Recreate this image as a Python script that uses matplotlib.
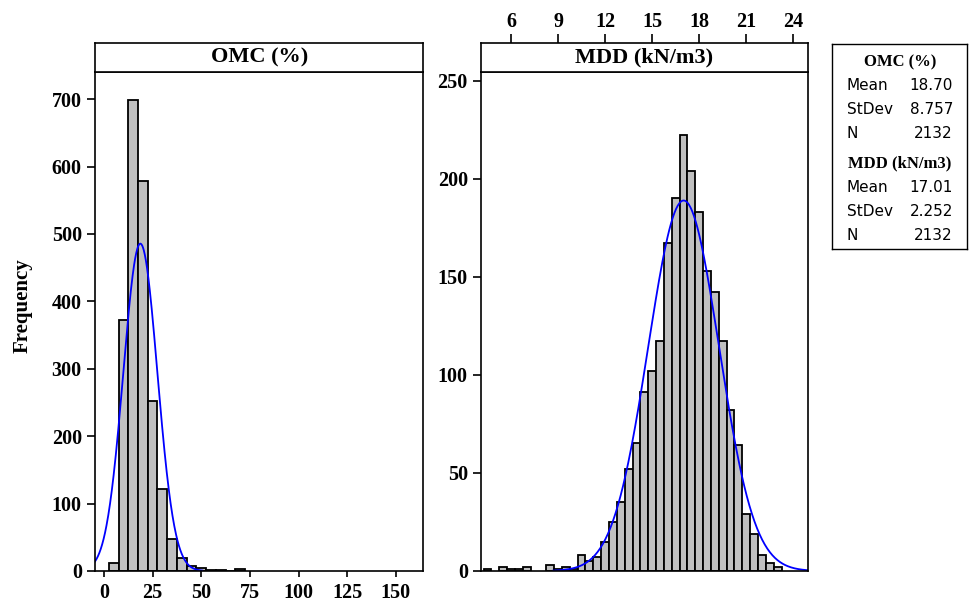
import numpy as np
import matplotlib.pyplot as plt

# OMC (%) histogram, bin width 5
omc_centers = [5, 10, 15, 20, 25, 30, 35, 40, 45, 50, 55, 60, 65, 70]
omc_counts = [12, 372, 698, 579, 252, 122, 47, 20, 7, 5, 2, 2, 0, 3]
omc_bin = 5
omc_mean, omc_sd, omc_n = 18.70, 8.757, 2132
omc_fit_range = (-4.6, 50.5)

# MDD (kN/m3) histogram, bin width 0.5
mdd_centers = [4.5, 5.5, 6.0, 6.5, 7.0, 8.5, 9.0, 9.5, 10.0,
               10.5, 11.0, 11.5, 12.0, 12.5, 13.0, 13.5, 14.0, 14.5, 15.0,
               15.5, 16.0, 16.5, 17.0, 17.5, 18.0, 18.5, 19.0, 19.5, 20.0,
               20.5, 21.0, 21.5, 22.0, 22.5, 23.0]
mdd_counts = [1, 2, 1, 1, 2, 3, 1, 2, 1,
              8, 5, 7, 15, 25, 35, 52, 65, 91, 102,
              117, 167, 190, 222, 204, 183, 153, 142, 117, 82,
              64, 29, 19, 8, 4, 2]
mdd_bin = 0.5
mdd_mean, mdd_sd, mdd_n = 17.01, 2.252, 2132
mdd_fit_range = (8.7, 24.95)

omc_xticks = [0, 25, 50, 75, 100, 125, 150]
omc_yticks = [0, 100, 200, 300, 400, 500, 600, 700]
mdd_xticks = [6, 9, 12, 15, 18, 21, 24]
mdd_yticks = [0, 50, 100, 150, 200, 250]

stats_rows = [
    ('OMC (%)', [('Mean', '18.70'), ('StDev', '8.757'), ('N', '2132')]),
    ('MDD (kN/m3)', [('Mean', '17.01'), ('StDev', '2.252'), ('N', '2132')]),
]

plt.rcParams['font.family'] = 'Liberation Serif'
plt.rcParams['font.weight'] = 'bold'

W, H = 970, 607


def fx(px):
    return px / W


def fy(py):
    return 1 - py / H


def normal_curve(mean, sd, n, width, lo, hi):
    x = np.linspace(lo, hi, 300)
    y = n * width * np.exp(-0.5 * ((x - mean) / sd) ** 2) / (sd * np.sqrt(2 * np.pi))
    return x, y


def panel(left, right, xlim, ylim, title):
    top, bottom, strip_top = 71.5, 571, 43
    ax = fig.add_axes([fx(left), fy(bottom), fx(right - left), fy(top) - fy(bottom)])
    st = fig.add_axes([fx(left), fy(top), fx(right - left), fy(strip_top) - fy(top)])
    for a in (ax, st):
        for s in a.spines.values():
            s.set_linewidth(1.2)
        a.set_xlim(xlim)
    ax.set_ylim(ylim)
    st.set_yticks([])
    st.text(0.5, 0.5, title, transform=st.transAxes, ha='center', va='center',
            fontsize=16, fontweight='bold')
    ax.tick_params(axis='y', direction='out', length=6, width=1.2, pad=3.5,
                   labelsize=14.5)
    return ax, st


fig = plt.figure(figsize=(W / 100, H / 100), dpi=100)

# left panel: OMC
ax1, st1 = panel(95, 423.3, (-4.6, 164.1), (0, 741), 'OMC (%)')
ax1.bar(omc_centers, omc_counts, width=omc_bin, color='#c0c0c0',
        edgecolor='black', linewidth=1.3)
x, y = normal_curve(omc_mean, omc_sd, omc_n, omc_bin, *omc_fit_range)
ax1.plot(x, y, color='#0000ff', linewidth=1.3)
ax1.set_xticks(omc_xticks)
ax1.set_yticks(omc_yticks)
ax1.tick_params(axis='x', direction='out', length=4.5, width=1.2, pad=4,
                labelsize=14.5)
st1.set_xticks([])

# right panel: MDD
ax2, st2 = panel(481, 807.7, (4.09, 24.92), (0, 254.6), 'MDD (kN/m3)')
ax2.bar(mdd_centers, mdd_counts, width=mdd_bin, color='#c0c0c0',
        edgecolor='black', linewidth=1.3)
x, y = normal_curve(mdd_mean, mdd_sd, mdd_n, mdd_bin, *mdd_fit_range)
ax2.plot(x, y, color='#0000ff', linewidth=1.3)
ax2.set_yticks(mdd_yticks)
ax2.tick_params(axis='x', bottom=False, labelbottom=False)
st2.set_xticks(mdd_xticks)
st2.tick_params(axis='x', top=True, labeltop=True, bottom=False,
                labelbottom=False, direction='out', length=6.5, width=1.2,
                pad=1.5, labelsize=14.5)

fig.text(fx(23), fy(306), 'Frequency', rotation=90, ha='center', va='center',
         fontsize=15, fontweight='bold')

# summary statistics box
box = fig.add_axes([fx(832.5), fy(249), fx(967.5 - 832.5), fy(44) - fy(249)])
box.set_xticks([])
box.set_yticks([])
for s in box.spines.values():
    s.set_linewidth(1.0)

header_y = [62, 163]
for (head, rows), hy in zip(stats_rows, header_y):
    fig.text(fx(900), fy(hy), head, ha='center', va='center', fontsize=12,
             fontweight='bold')
    for i, (name, val) in enumerate(rows):
        ry = hy + 24 * (i + 1)
        fig.text(fx(847), fy(ry), name, ha='left', va='center', fontsize=11,
                 family='DejaVu Sans', fontweight='normal')
        fig.text(fx(953), fy(ry), val, ha='right', va='center', fontsize=11,
                 family='DejaVu Sans', fontweight='normal')

fig.savefig('out.png', dpi=100)
